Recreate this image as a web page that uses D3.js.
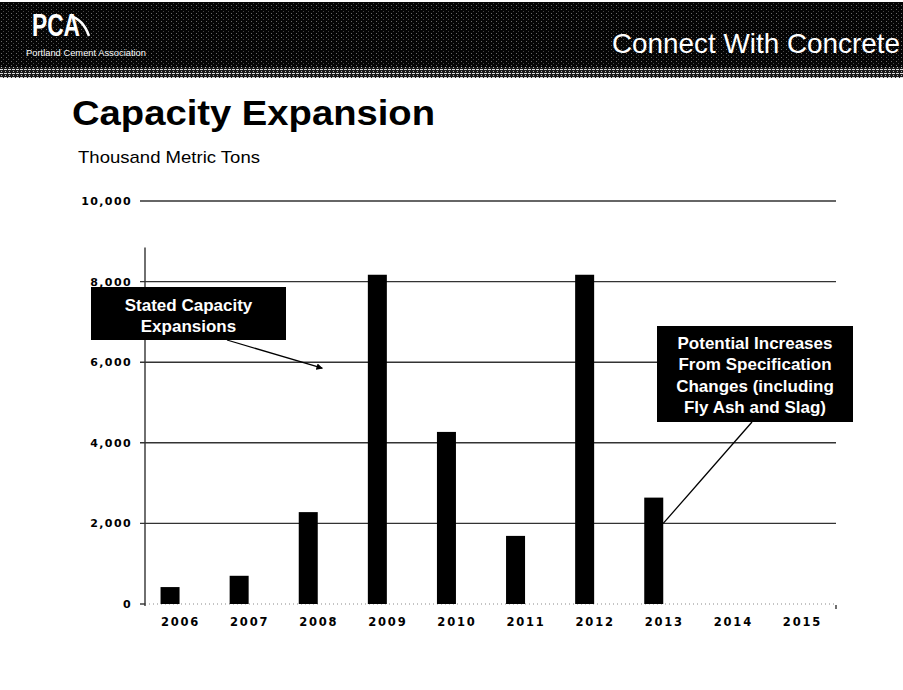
<!DOCTYPE html>
<html>
<head>
<meta charset="utf-8">
<script src="https://cdn.jsdelivr.net/npm/d3@7/dist/d3.min.js"></script>
<style>
  html, body { margin: 0; padding: 0; background: #fff; }
  svg { display: block; }
</style>
</head>
<body>
<svg id="chart" width="903" height="690"></svg>
<script>
// ---- data ----
const years = ["2006","2007","2008","2009","2010","2011","2012","2013","2014","2015"];
const series = ["Stated Capacity Expansions","Potential Increases"];
const statedValues = [420, 700, 2280, 8170, 4270, 1690, 8170, 2640, 0, 0];
const yTicks = [0, 2000, 4000, 6000, 8000, 10000];
const titleText = "Capacity Expansion";
const subtitleText = "Thousand Metric Tons";
const callout1Lines = ["Stated Capacity", "Expansions"];
const callout2Lines = ["Potential Increases", "From Specification", "Changes (including", "Fly Ash and Slag)"];

const svg = d3.select("#chart");

// ---- header band ----
const defs = svg.append("defs");
const pat = defs.append("pattern").attr("id","dither").attr("width",5).attr("height",4)
  .attr("patternUnits","userSpaceOnUse");
pat.append("rect").attr("width",5).attr("height",4).attr("fill","#050505");
pat.append("rect").attr("x",1).attr("y",1).attr("width",1).attr("height",1).attr("fill","#6a6a6a");
pat.append("rect").attr("x",3).attr("y",3).attr("width",1).attr("height",1).attr("fill","#444");
const pat2 = defs.append("pattern").attr("id","stripe").attr("width",4).attr("height",4)
  .attr("patternUnits","userSpaceOnUse");
pat2.append("rect").attr("width",4).attr("height",4).attr("fill","#1a1a1a");
pat2.append("rect").attr("x",0).attr("y",1).attr("width",3).attr("height",1).attr("fill","#ddd");
pat2.append("rect").attr("x",1).attr("y",3).attr("width",1).attr("height",1).attr("fill","#bbb");

svg.append("rect").attr("x",0).attr("y",2).attr("width",903).attr("height",65).attr("fill","url(#dither)");
svg.append("rect").attr("x",0).attr("y",67).attr("width",903).attr("height",11).attr("fill","url(#stripe)");

// PCA logo
svg.append("text").attr("x",32).attr("y",36)
  .attr("font-family","'Liberation Sans',Arial,sans-serif")
  .attr("font-weight","bold").attr("font-size",31).attr("fill","#fff")
  .attr("textLength",48).attr("lengthAdjust","spacingAndGlyphs").text("PCA");
svg.append("path").attr("d","M70,16 Q83,19 89,36").attr("fill","none").attr("stroke","#fff").attr("stroke-width",2.5);
svg.append("text").attr("x",26).attr("y",56)
  .attr("font-family","'Liberation Sans',Arial,sans-serif")
  .attr("font-size",9).attr("fill","#fff")
  .attr("textLength",120).attr("lengthAdjust","spacingAndGlyphs").text("Portland Cement Association");

svg.append("text").attr("x",612).attr("y",53)
  .attr("font-family","'Liberation Sans',Arial,sans-serif")
  .attr("font-size",28).attr("fill","#fff")
  .attr("textLength",288).attr("lengthAdjust","spacingAndGlyphs").text("Connect With Concrete");

// ---- titles ----
svg.append("text").attr("x",72).attr("y",125)
  .attr("font-family","'Liberation Sans',Arial,sans-serif")
  .attr("font-weight","bold").attr("font-size",35).attr("fill","#000")
  .attr("textLength",363).attr("lengthAdjust","spacingAndGlyphs").text(titleText);
svg.append("text").attr("x",78).attr("y",163)
  .attr("font-family","'Liberation Sans',Arial,sans-serif")
  .attr("font-size",17).attr("fill","#000")
  .attr("textLength",182).attr("lengthAdjust","spacingAndGlyphs").text(subtitleText);

// ---- scales ----
const plotLeft = 145, plotRight = 836, plotBottom = 604, plotTop = 201;
const x = d3.scaleBand().domain(years).range([plotLeft, plotRight]).paddingInner(0).paddingOuter(0);
const xs = d3.scaleBand().domain(series).range([0, x.bandwidth()]).paddingInner(0).paddingOuter(0.818);
const y = d3.scaleLinear().domain([0, 10000]).range([plotBottom, plotTop]);

// gridlines
svg.append("g").selectAll("line").data(yTicks.filter(d => d > 0)).join("line")
  .attr("x1", plotLeft - 5).attr("x2", plotRight)
  .attr("y1", d => y(d)).attr("y2", d => y(d))
  .attr("stroke", "#333").attr("stroke-width", 1.4);

// zero baseline (faint dotted)
svg.append("line").attr("x1", plotLeft).attr("x2", plotRight)
  .attr("y1", y(0)).attr("y2", y(0))
  .attr("stroke", "#888").attr("stroke-width", 1).attr("stroke-dasharray", "1,3");

// y axis line
svg.append("line").attr("x1", plotLeft).attr("x2", plotLeft)
  .attr("y1", y(8000) - 34).attr("y2", y(0) + 2)
  .attr("stroke", "#333").attr("stroke-width", 1.4);
svg.append("line").attr("x1", plotLeft - 5).attr("x2", plotLeft)
  .attr("y1", y(0)).attr("y2", y(0)).attr("stroke", "#333").attr("stroke-width", 1.4);
svg.append("line").attr("x1", plotRight).attr("x2", plotRight)
  .attr("y1", y(0)+1).attr("y2", y(0) + 5).attr("stroke", "#333").attr("stroke-width", 1.4);

// y tick labels
const fmt = d3.format(",");
svg.append("g").selectAll("text").data(yTicks).join("text")
  .attr("x", 132).attr("y", d => y(d) + 4)
  .attr("text-anchor", "end")
  .attr("font-family", "'DejaVu Sans',Verdana,sans-serif")
  .attr("font-weight", "bold").attr("font-size", 11)
  .attr("letter-spacing", "1.4px").attr("fill", "#000")
  .text(d => fmt(d));

// bars
svg.append("g").selectAll("rect").data(years.map((yr, i) => ({yr, v: statedValues[i]})).filter(d => d.v > 0)).join("rect")
  .attr("x", d => x(d.yr) + xs(series[0]))
  .attr("width", xs.bandwidth())
  .attr("y", d => y(d.v))
  .attr("height", d => y(0) - y(d.v))
  .attr("fill", "#000");

// x labels
svg.append("g").selectAll("text").data(years).join("text")
  .attr("x", d => x(d) + x.bandwidth() / 2 + 1)
  .attr("y", 626)
  .attr("text-anchor", "middle")
  .attr("font-family", "'DejaVu Sans',Verdana,sans-serif")
  .attr("font-weight", "bold").attr("font-size", 11.5)
  .attr("letter-spacing", "1.8px").attr("fill", "#000")
  .text(d => d);

// ---- callout 1 ----
defs.append("marker").attr("id","arrow").attr("viewBox","0 0 10 10").attr("refX",9).attr("refY",5)
  .attr("markerWidth",5).attr("markerHeight",5).attr("orient","auto")
  .append("path").attr("d","M0,0 L10,5 L0,10 z").attr("fill","#000");

svg.append("line").attr("x1", 227).attr("y1", 340)
  .attr("x2", x("2009") - 30).attr("y2", y(5850))
  .attr("stroke","#000").attr("stroke-width",1.3).attr("marker-end","url(#arrow)");
svg.append("rect").attr("x",91).attr("y",287).attr("width",195).attr("height",53).attr("fill","#000");
svg.append("g").selectAll("text").data(callout1Lines).join("text")
  .attr("x", 188.5).attr("y", (d,i) => 311 + i * 21)
  .attr("text-anchor","middle")
  .attr("font-family","'Liberation Sans',Arial,sans-serif")
  .attr("font-weight","bold").attr("font-size",17).attr("fill","#fff")
  .text(d => d);

// ---- callout 2 ----
svg.append("line").attr("x1", 752).attr("y1", 422)
  .attr("x2", x("2013") + xs(series[0]) + xs.bandwidth()).attr("y2", y(2000))
  .attr("stroke","#000").attr("stroke-width",1.3);
svg.append("rect").attr("x",657).attr("y",326).attr("width",196).attr("height",96).attr("fill","#000");
svg.append("g").selectAll("text").data(callout2Lines).join("text")
  .attr("x", 755).attr("y", (d,i) => 349 + i * 21.3)
  .attr("text-anchor","middle")
  .attr("font-family","'Liberation Sans',Arial,sans-serif")
  .attr("font-weight","bold").attr("font-size",17).attr("fill","#fff")
  .text(d => d);
</script>
</body>
</html>
